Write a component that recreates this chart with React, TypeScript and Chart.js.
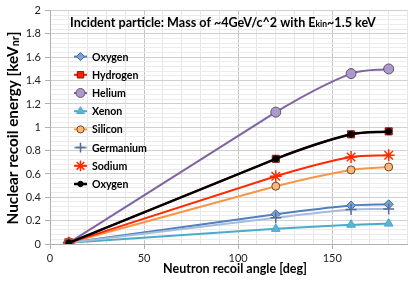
import React, { useEffect, useRef } from 'react';
import { Chart, registerables } from 'chart.js';
import { drawPoint } from 'chart.js/helpers';

Chart.register(...registerables);

const angles = [10, 120, 160, 180];
const seriesNames = ['Oxygen', 'Hydrogen', 'Helium', 'Xenon', 'Silicon', 'Germanium', 'Sodium', 'Oxygen'];
const oxygenValues = [0.01, 0.255, 0.33, 0.34];
const hydrogenValues = [0.01, 0.73, 0.94, 0.965];
const heliumValues = [0.01, 1.13, 1.46, 1.5];
const xenonValues = [0.01, 0.13, 0.165, 0.175];
const siliconValues = [0.01, 0.495, 0.635, 0.66];
const germaniumValues = [0.01, 0.225, 0.295, 0.3];
const sodiumValues = [0.01, 0.58, 0.745, 0.76];
const oxygenBlackValues = [0.01, 0.73, 0.94, 0.965];
const seriesValues = [oxygenValues, hydrogenValues, heliumValues, xenonValues, siliconValues, germaniumValues, sodiumValues, oxygenBlackValues];

const xMin = 0;
const xMax = 190;
const xMinorStep = 10;
const xMajorStep = 50;
const yMin = 0;
const yMax = 2;
const yMinorStep = 0.04;
const yMajorStep = 0.2;

const titleMain = 'Incident particle: Mass of ~4GeV/c^2 with E';
const titleSub = 'kin';
const titleEnd = '~1.5 keV';
const xTitle = 'Neutron recoil angle [deg]';
const yTitleMain = 'Nuclear recoil energy [keV';
const yTitleSub = 'nr';
const yTitleEnd = ']';

const FONT = 'Lato, "Open Sans", sans-serif';

const styles = [
  { line: '#4f81bd', fill: '#7aa3d6', border: '#3b639a', point: 'rectRot', r: 4.5, lw: 2 },
  { line: '#ff1a00', fill: '#ff2200', border: '#7a1608', point: 'rect', r: 5, lw: 2 },
  { line: '#8064a2', fill: '#ab99c9', border: '#5e5470', point: 'circle', r: 5, lw: 2 },
  { line: '#4bacc6', fill: '#5ab6d8', border: '#4aa6c8', point: 'triangle', r: 5, lw: 2 },
  { line: '#f79646', fill: '#f9b77a', border: '#6e4a2a', point: 'circle', r: 4, lw: 2 },
  { line: '#a7bbdc', fill: '#556c8e', border: '#556c8e', point: 'cross', r: 5.5, lw: 2 },
  { line: '#ff2a00', fill: '#ff2a00', border: '#ff2a00', point: 'star', r: 6, lw: 2 },
  { line: '#000000', fill: '#000000', border: '#000000', point: 'circle', r: 3, lw: 2.5 },
];

const isMult = (v: number, step: number) => Math.abs(v / step - Math.round(v / step)) < 1e-6;

function fitSize(ctx: CanvasRenderingContext2D, parts: [string, number][], target: number) {
  let w = 0;
  for (const [t, rel] of parts) {
    ctx.font = `bold ${20 * rel}px ${FONT}`;
    w += ctx.measureText(t).width;
  }
  return (20 * target) / w;
}

// Excel-like smoothing: first (long) segment stays straight, later segments are smoothed
const straightenPlugin = {
  id: 'straighten',
  beforeDatasetDraw(chart: any, args: any) {
    const meta = args.meta;
    const line = meta.dataset;
    if (!line) return;
    if (typeof line.updateControlPoints === 'function') line.updateControlPoints(chart.chartArea, 'x');
    const pts = line.points || meta.data;
    if (!pts || pts.length < 2) return;
    const a = pts[0];
    const b = pts[1];
    a.cp2x = a.x + (b.x - a.x) / 3;
    a.cp2y = a.y + (b.y - a.y) / 3;
    b.cp1x = b.x - (b.x - a.x) / 3;
    b.cp1y = b.y - (b.y - a.y) / 3;
    line._pointsUpdated = true;
    line._path = undefined;
  },
};

const overlayPlugin = {
  id: 'overlay',
  afterDatasetsDraw(chart: any) {
    const ctx = chart.ctx as CanvasRenderingContext2D;
    const area = chart.chartArea;
    ctx.save();
    ctx.fillStyle = '#000';
    ctx.textBaseline = 'alphabetic';
    ctx.textAlign = 'left';

    const subRel = 0.68;
    const ts = fitSize(ctx, [[titleMain, 1], [titleSub, subRel], [titleEnd, 1]], 306);
    let x = 70;
    const ty = area.top + 16.5;
    ctx.font = `bold ${ts}px ${FONT}`;
    ctx.fillText(titleMain, x, ty);
    x += ctx.measureText(titleMain).width;
    ctx.font = `bold ${ts * subRel}px ${FONT}`;
    ctx.fillText(titleSub, x, ty);
    x += ctx.measureText(titleSub).width;
    ctx.font = `bold ${ts}px ${FONT}`;
    ctx.fillText(titleEnd, x, ty);

    const ls = fitSize(ctx, [['Germanium', 1]], 55);
    chart.data.datasets.forEach((ds: any, i: number) => {
      const y = area.top + 46 + i * 18.2;
      const cx = area.left + 30.5;
      ctx.strokeStyle = ds.borderColor;
      ctx.lineWidth = ds.borderWidth;
      ctx.beginPath();
      ctx.moveTo(area.left + 24, y);
      ctx.lineTo(area.left + 37, y);
      ctx.stroke();
      ctx.fillStyle = ds.pointBackgroundColor;
      ctx.strokeStyle = ds.pointBorderColor;
      ctx.lineWidth = ds.pointBorderWidth;
      drawPoint(ctx, { pointStyle: ds.pointStyle, radius: ds.pointRadius * 0.9, rotation: 0, borderWidth: ds.pointBorderWidth }, cx, y);
      ctx.fillStyle = '#000';
      ctx.font = `bold ${ls}px ${FONT}`;
      ctx.textBaseline = 'middle';
      ctx.textAlign = 'left';
      ctx.fillText(ds.label, area.left + 42, y + 0.5);
    });

    const xs = fitSize(ctx, [[xTitle, 1]], 144);
    ctx.textBaseline = 'middle';
    ctx.font = `bold ${xs}px ${FONT}`;
    ctx.textAlign = 'center';
    ctx.fillText(xTitle, 235, 269);

    const ySubRel = 0.7;
    const ys = fitSize(ctx, [[yTitleMain, 1], [yTitleSub, ySubRel], [yTitleEnd, 1]], 193);
    ctx.translate(13, 128);
    ctx.rotate(-Math.PI / 2);
    ctx.font = `bold ${ys}px ${FONT}`;
    const w1 = ctx.measureText(yTitleMain).width;
    ctx.font = `bold ${ys * ySubRel}px ${FONT}`;
    const w2 = ctx.measureText(yTitleSub).width;
    ctx.font = `bold ${ys}px ${FONT}`;
    const w3 = ctx.measureText(yTitleEnd).width;
    let sx = -(w1 + w2 + w3) / 2;
    ctx.textAlign = 'left';
    ctx.textBaseline = 'alphabetic';
    ctx.fillText(yTitleMain, sx, 4.5);
    sx += w1;
    ctx.font = `bold ${ys * ySubRel}px ${FONT}`;
    ctx.fillText(yTitleSub, sx, 5.5);
    sx += w2;
    ctx.font = `bold ${ys}px ${FONT}`;
    ctx.fillText(yTitleEnd, sx, 4.5);
    ctx.restore();
  },
};

export default function App() {
  const ref = useRef<HTMLCanvasElement | null>(null);
  useEffect(() => {
    document.body.style.margin = '0';
    const n = seriesValues.length;
    const datasets = seriesValues.map((vals, i) => ({
      label: seriesNames[i],
      data: angles.map((a, j) => ({ x: a, y: vals[j] })),
      borderColor: styles[i].line,
      backgroundColor: styles[i].fill,
      borderWidth: styles[i].lw,
      pointStyle: styles[i].point,
      pointRadius: styles[i].r,
      pointBackgroundColor: styles[i].fill,
      pointBorderColor: styles[i].border,
      pointBorderWidth: styles[i].point === 'cross' || styles[i].point === 'star' ? 1.5 : 1,
      tension: 0.3,
      order: n - i,
      fill: false,
    }));
    const chart = new Chart(ref.current as HTMLCanvasElement, {
      type: 'line',
      data: { datasets },
      options: {
        animation: false,
        responsive: false,
        layout: { padding: { top: 5, right: 4, left: 0, bottom: 0 } },
        plugins: { legend: { display: false }, tooltip: { enabled: false }, title: { display: false } },
        scales: {
          x: {
            type: 'linear',
            min: xMin,
            max: xMax,
            afterFit: (s: any) => { s.height = 38; },
            ticks: {
              stepSize: xMinorStep,
              autoSkip: false,
              maxRotation: 0,
              padding: 3,
              color: '#222',
              font: { family: FONT, size: 11 },
              callback: (v: any) => (isMult(Number(v), xMajorStep) ? String(Math.round(Number(v))) : ''),
            },
            grid: {
              color: (c: any) => (c.tick && isMult(c.tick.value, xMajorStep) ? '#c4c4c4' : '#e6e6e6'),
              tickColor: (c: any) => (c.tick && isMult(c.tick.value, xMajorStep) ? '#b0b0b0' : 'rgba(0,0,0,0)'),
              tickLength: 5,
            },
            border: { color: '#b0b0b0' },
          },
          y: {
            type: 'linear',
            min: yMin,
            max: yMax,
            afterFit: (s: any) => { s.width = 50; },
            ticks: {
              stepSize: yMinorStep,
              autoSkip: false,
              padding: 4,
              color: '#222',
              font: { family: FONT, size: 11 },
              callback: (v: any) => (isMult(Number(v), yMajorStep) ? String(Math.round(Number(v) * 10) / 10) : ''),
            },
            grid: {
              color: (c: any) => (c.tick && isMult(c.tick.value, yMajorStep) ? '#d0d0d0' : '#ececec'),
              tickColor: (c: any) => (c.tick && isMult(c.tick.value, yMajorStep) ? '#b0b0b0' : 'rgba(0,0,0,0)'),
              tickLength: 5,
            },
            border: { color: '#b0b0b0' },
          },
        },
      },
      plugins: [straightenPlugin, overlayPlugin],
    } as any);
    return () => chart.destroy();
  }, []);
  return (
    <div style={{ width: 415, height: 282 }}>
      <canvas ref={ref} width={415} height={282} />
    </div>
  );
}
